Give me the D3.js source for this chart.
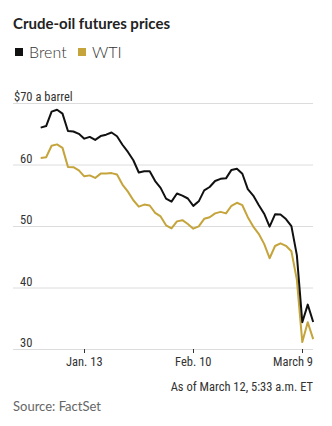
<!DOCTYPE html>
<html>
<head>
<meta charset="utf-8">
<script src="https://cdn.jsdelivr.net/npm/d3@7/dist/d3.min.js"></script>
<style>
  html, body { margin: 0; padding: 0; background: #fff; }
  svg { display: block; }
  .narrow { font-family: "Liberation Sans Narrow", "Roboto Condensed", "Open Sans", sans-serif; font-stretch: condensed; }
</style>
</head>
<body>
<svg id="chart" width="332" height="426"></svg>
<script>
// Trading sessions (last one is the live quote as of March 12)
const dates = [
  "2019-12-31","2020-01-02","2020-01-03","2020-01-06","2020-01-07","2020-01-08","2020-01-09","2020-01-10",
  "2020-01-13","2020-01-14","2020-01-15","2020-01-16","2020-01-17","2020-01-20","2020-01-21","2020-01-22",
  "2020-01-23","2020-01-24","2020-01-27","2020-01-28","2020-01-29","2020-01-30","2020-01-31","2020-02-03",
  "2020-02-04","2020-02-05","2020-02-06","2020-02-07","2020-02-10","2020-02-11","2020-02-12","2020-02-13",
  "2020-02-14","2020-02-17","2020-02-18","2020-02-19","2020-02-20","2020-02-21","2020-02-24","2020-02-25",
  "2020-02-26","2020-02-27","2020-02-28","2020-03-02","2020-03-03","2020-03-04","2020-03-05","2020-03-06",
  "2020-03-09","2020-03-10","2020-03-12"
];

// Brent front-month, $ a barrel
const brent = [
  66.00, 66.25, 68.60, 68.91, 68.27, 65.44, 65.37, 64.98,
  64.20, 64.49, 64.00, 64.62, 64.85, 65.20, 64.59, 63.21,
  62.04, 60.69, 58.70, 58.90, 58.90, 57.30, 56.20, 54.45,
  53.96, 55.28, 54.93, 54.47, 53.27, 54.01, 55.79, 56.34,
  57.32, 57.67, 57.75, 59.12, 59.31, 58.50, 56.00, 54.95,
  53.43, 52.00, 49.90, 51.90, 51.86, 51.13, 49.99, 45.27,
  34.36, 37.22, 34.40
];

// WTI front-month, $ a barrel
const wti = [
  61.06, 61.18, 63.05, 63.27, 62.70, 59.61, 59.56, 59.04,
  58.08, 58.23, 57.81, 58.52, 58.54, 58.60, 58.38, 56.74,
  55.59, 54.19, 53.14, 53.48, 53.33, 52.14, 51.56, 50.11,
  49.61, 50.75, 50.95, 50.32, 49.57, 49.94, 51.17, 51.42,
  52.05, 52.30, 52.05, 53.29, 53.78, 53.38, 51.43, 49.90,
  48.73, 47.09, 44.76, 46.75, 47.18, 46.78, 45.90, 41.28,
  31.13, 34.36, 31.60
];

const yTicks = [70, 60, 50, 40, 30];
const xTickDates = ["2020-01-13", "2020-02-10", "2020-03-09"];
const xTickLabels = ["Jan. 13", "Feb. 10", "March 9"];

const seriesNames = ["Brent", "WTI"];
const seriesColors = ["#111111", "#c4a43b"];

const svg = d3.select("#chart");

const gridLeft = 13, gridRight = 313;
const x = d3.scalePoint().domain(dates).range([40.7, 313.2]);
const y = d3.scaleLinear().domain([30, 70]).range([349, 103]);

// Title
svg.append("text")
  .attr("x", 13).attr("y", 29)
  .attr("font-family", "Lato, 'Open Sans', sans-serif")
  .attr("font-weight", 700)
  .attr("font-size", 15)
  .attr("fill", "#222")
  .text("Crude-oil futures prices");

// Legend
const legendX = [15, 78];
seriesNames.forEach((name, i) => {
  const g = svg.append("g").attr("transform", `translate(${legendX[i]},48)`);
  g.append("rect").attr("width", 8).attr("height", 8).attr("fill", seriesColors[i]);
  g.append("text")
    .attr("x", 14).attr("y", 9.5)
    .attr("font-family", "Lato, 'Open Sans', sans-serif")
    .attr("font-weight", 300)
    .attr("font-size", 16)
    .attr("fill", "#333")
    .text(name);
});

// Horizontal gridlines
svg.append("g").selectAll("line")
  .data(yTicks)
  .join("line")
  .attr("x1", gridLeft).attr("x2", gridRight)
  .attr("y1", d => y(d) + 0.5).attr("y2", d => y(d) + 0.5)
  .attr("stroke", "#dcdcdc").attr("stroke-width", 1);

// Y labels sit above their gridlines
svg.append("g").selectAll("text")
  .data(yTicks)
  .join("text")
  .attr("class", "narrow")
  .attr("x", d => d === 70 ? 14 : 20)
  .attr("y", d => y(d) - 2)
  .attr("font-size", 12.5)
  .attr("fill", "#333")
  .text(d => d === 70 ? "$70 a barrel" : d);

// X axis ticks and labels
const xAxis = svg.append("g");
xAxis.selectAll("line")
  .data(xTickDates)
  .join("line")
  .attr("x1", d => Math.round(x(d)) + 0.5).attr("x2", d => Math.round(x(d)) + 0.5)
  .attr("y1", y(30)).attr("y2", y(30) + 4)
  .attr("stroke", "#333").attr("stroke-width", 1);
xAxis.selectAll("text")
  .data(xTickDates)
  .join("text")
  .attr("class", "narrow")
  .attr("x", (d, i) => i === xTickDates.length - 1 ? gridRight : x(d))
  .attr("y", 366)
  .attr("text-anchor", (d, i) => i === xTickDates.length - 1 ? "end" : "middle")
  .attr("font-size", 12.5)
  .attr("fill", "#333")
  .text((d, i) => xTickLabels[i]);

// Price lines
const line = d3.line()
  .x((d, i) => x(dates[i]))
  .y(d => y(d));

[brent, wti].forEach((vals, i) => {
  svg.append("path")
    .datum(vals)
    .attr("d", line)
    .attr("fill", "none")
    .attr("stroke", seriesColors[i])
    .attr("stroke-width", 2)
    .attr("stroke-linejoin", "round");
});
// keep Brent drawn on top
svg.selectAll("path").filter((d, i) => i === 0).raise();

// Notes
svg.append("text")
  .attr("class", "narrow")
  .attr("x", gridRight).attr("y", 391)
  .attr("text-anchor", "end")
  .attr("font-size", 12.5)
  .attr("fill", "#333")
  .text("As of March 12, 5:33 a.m. ET");

svg.append("text")
  .attr("x", 13).attr("y", 411)
  .attr("font-family", "Lato, 'Open Sans', sans-serif")
  .attr("font-size", 13)
  .attr("fill", "#666")
  .text("Source: FactSet");
</script>
</body>
</html>
